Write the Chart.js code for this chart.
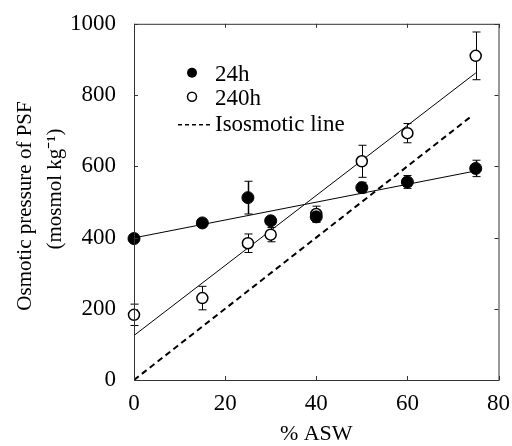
<!DOCTYPE html>
<html>
<head>
<meta charset="utf-8">
<title>Osmotic pressure of PSF</title>
<script src="https://cdn.jsdelivr.net/npm/chart.js@4"></script>
<style>
  html, body { margin: 0; padding: 0; background: #fff; }
  canvas { display: block; }
</style>
</head>
<body>
<canvas id="osmoChart" width="512" height="446"></canvas>
<script>
// values
var asw = [0, 15, 25, 30, 40, 50, 60, 75];
var osmo24 = [397, 441, 512, 447, 458, 540, 556, 594];
var err24 = [0, 0, 46, 10, 15, 15, 18, 23];
var osmo240 = [183, 230, 384, 408, 466, 614, 693, 910];
var err240 = [30, 33, 26, 20, 22, 45, 27, 67];

// fitted lines (end points)
var fitX = [0, 75];
var fit24 = [399, 587];
var fit240 = [125, 862];
var isoX = [0, 74];
var isoY = [0, 740];

var xTicks = [0, 20, 40, 60, 80];
var yTicks = [0, 200, 400, 600, 800, 1000];
var yTitle = ["Osmotic pressure of PSF", "(mosmol kg\u207B\u00B9)"];

var serif = "'Liberation Serif', 'Times New Roman', serif";

function toPoints(xs, ys) {
  return xs.map(function (x, i) {
    return { x: x, y: ys[i] };
  });
}

// error bars, box frame with inward ticks, legend, y title
var extras = {
  id: "extras",
  beforeDatasetsDraw: function (chart) {
    var ctx = chart.ctx;
    var xs = chart.scales.x;
    var ys = chart.scales.y;

    function bars(vals, errs, width) {
      vals.forEach(function (v, i) {
        if (!errs[i]) return;
        var px = Math.round(xs.getPixelForValue(asw[i])) + 0.5;
        var top = ys.getPixelForValue(v + errs[i]);
        var bot = ys.getPixelForValue(v - errs[i]);
        ctx.lineWidth = width;
        ctx.beginPath();
        ctx.moveTo(px, top);
        ctx.lineTo(px, bot);
        ctx.stroke();
        ctx.lineWidth = 1;
        ctx.beginPath();
        ctx.moveTo(px - 4, top);
        ctx.lineTo(px + 4, top);
        ctx.moveTo(px - 4, bot);
        ctx.lineTo(px + 4, bot);
        ctx.stroke();
      });
    }

    ctx.save();
    ctx.strokeStyle = "#000";
    bars(osmo240, err240, 1);
    bars(osmo24, err24, 1.5);
    ctx.restore();
  },
  afterDraw: function (chart) {
    var ctx = chart.ctx;
    var a = chart.chartArea;
    var xs = chart.scales.x;
    var ys = chart.scales.y;

    ctx.save();
    ctx.strokeStyle = "#333";
    ctx.lineWidth = 1;
    ctx.strokeRect(a.left + 0.5, a.top + 0.5, a.right - a.left, a.bottom - a.top);

    // inward ticks on all four sides
    ctx.beginPath();
    xTicks.forEach(function (v) {
      var px = Math.round(xs.getPixelForValue(v)) + 0.5;
      ctx.moveTo(px, a.bottom);
      ctx.lineTo(px, a.bottom - 4);
      ctx.moveTo(px, a.top);
      ctx.lineTo(px, a.top + 4);
    });
    yTicks.forEach(function (v) {
      var py = Math.round(ys.getPixelForValue(v)) + 0.5;
      ctx.moveTo(a.left, py);
      ctx.lineTo(a.left + 4, py);
      ctx.moveTo(a.right, py);
      ctx.lineTo(a.right - 4, py);
    });
    ctx.stroke();

    // legend
    var lx = a.left + 58;
    var ly = a.top + 49;
    ctx.fillStyle = "#000";
    ctx.strokeStyle = "#000";
    ctx.beginPath();
    ctx.arc(lx, ly, 5, 0, Math.PI * 2);
    ctx.fill();

    ctx.lineWidth = 1.5;
    ctx.beginPath();
    ctx.arc(lx, ly + 24, 4.5, 0, Math.PI * 2);
    ctx.stroke();

    ctx.lineWidth = 1.5;
    ctx.setLineDash([4, 3]);
    ctx.beginPath();
    ctx.moveTo(lx - 14, ly + 52);
    ctx.lineTo(lx + 18, ly + 52);
    ctx.stroke();
    ctx.setLineDash([]);

    ctx.font = "23px " + serif;
    ctx.textBaseline = "middle";
    ctx.fillText("24h", lx + 23, ly + 2);
    ctx.fillText("240h", lx + 23, ly + 26);
    ctx.fillText("Isosmotic line", lx + 23, ly + 52);

    // y axis title, two rotated lines
    ctx.font = "21px " + serif;
    ctx.textAlign = "center";
    ctx.save();
    ctx.translate(25, 206);
    ctx.rotate(-Math.PI / 2);
    ctx.fillText(yTitle[0], 0, 0);
    ctx.restore();
    ctx.save();
    ctx.translate(55, 189);
    ctx.rotate(-Math.PI / 2);
    ctx.fillText(yTitle[1], 0, 0);
    ctx.restore();
    ctx.restore();
  }
};

document.addEventListener("DOMContentLoaded", function () {
  var ctx = document.getElementById("osmoChart").getContext("2d");
  new Chart(ctx, {
    type: "scatter",
    data: {
      datasets: [
        {
          label: "24h",
          data: toPoints(asw, osmo24),
          showLine: false,
          pointRadius: 6,
          pointBackgroundColor: "#000",
          pointBorderColor: "#000",
          pointBorderWidth: 1,
          clip: false
        },
        {
          label: "240h",
          data: toPoints(asw, osmo240),
          showLine: false,
          pointRadius: 5.5,
          pointBackgroundColor: "#fff",
          pointBorderColor: "#000",
          pointBorderWidth: 1.5,
          clip: false
        },
        {
          label: "24h fit",
          data: toPoints(fitX, fit24),
          showLine: true,
          pointRadius: 0,
          borderColor: "#000",
          borderWidth: 1
        },
        {
          label: "240h fit",
          data: toPoints(fitX, fit240),
          showLine: true,
          pointRadius: 0,
          borderColor: "#000",
          borderWidth: 1
        },
        {
          label: "Isosmotic line",
          data: toPoints(isoX, isoY),
          showLine: true,
          pointRadius: 0,
          borderColor: "#000",
          borderWidth: 2,
          borderDash: [6, 4]
        }
      ]
    },
    options: {
      responsive: false,
      animation: false,
      layout: { padding: { top: 15, right: 12, left: 0, bottom: 0 } },
      plugins: {
        legend: { display: false },
        tooltip: { enabled: false }
      },
      scales: {
        x: {
          type: "linear",
          min: 0,
          max: 80,
          afterBuildTicks: function (scale) {
            scale.ticks = xTicks.map(function (v) { return { value: v }; });
          },
          afterFit: function (scale) {
            scale.height = 66;
          },
          grid: { display: false },
          border: { display: false },
          ticks: {
            color: "#000",
            padding: 2,
            maxRotation: 0,
            font: { family: serif, size: 23 },
            callback: function (v) { return String(v); }
          },
          title: {
            display: true,
            text: "% ASW",
            color: "#000",
            padding: 0,
            font: { family: serif, size: 22, lineHeight: 1.1 }
          }
        },
        y: {
          type: "linear",
          min: 0,
          max: 1000,
          afterBuildTicks: function (scale) {
            scale.ticks = yTicks.map(function (v) { return { value: v }; });
          },
          afterFit: function (scale) {
            scale.width = 134;
          },
          grid: { display: false },
          border: { display: false },
          ticks: {
            color: "#000",
            padding: 10,
            font: { family: serif, size: 23 },
            callback: function (v) { return String(v); }
          }
        }
      }
    },
    plugins: [extras]
  });
});
</script>
</body>
</html>
